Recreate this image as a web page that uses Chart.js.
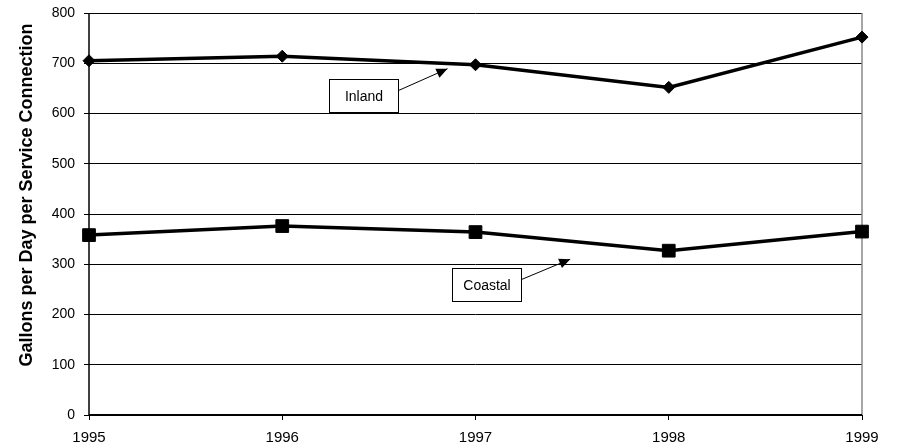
<!DOCTYPE html>
<html>
<head>
<meta charset="utf-8">
<script src="https://cdn.jsdelivr.net/npm/chart.js@4/dist/chart.umd.min.js"></script>
<style>
html,body{margin:0;padding:0;background:#fff;}
#wrap{width:897px;height:448px;position:relative;}
</style>
</head>
<body>
<div id="wrap"><canvas id="c" width="897" height="448"></canvas></div>
<script>
const years = ['1995', '1996', '1997', '1998', '1999'];
const inland = [705, 714, 697, 652, 752];
const coastal = [358, 376, 364, 327, 365];
const yTicks = [0, 100, 200, 300, 400, 500, 600, 700, 800];
const yTitle = 'Gallons per Day per Service Connection';
// callouts: label, box centre (category index, value), arrow tip (category index, value)
const callouts = [
  {text: 'Inland', box: [1.423, 635], tip: [1.855, 689]},
  {text: 'Coastal', box: [2.056, 260], tip: [2.49, 310]}
];

const FONT = "'Liberation Sans', Arial, sans-serif";

const calloutPlugin = {
  id: 'callouts',
  afterDatasetsDraw(chart) {
    const ctx = chart.ctx;
    const xs = chart.scales.x, ys = chart.scales.y;
    ctx.save();
    ctx.font = '14px ' + FONT;
    callouts.forEach(c => {
      const cx = xs.getPixelForValue(c.box[0]);
      const cy = ys.getPixelForValue(c.box[1]);
      const w = 69, h = 33;
      const bx = Math.round(cx - w / 2) + 0.5, by = Math.round(cy - h / 2) + 0.5;
      const tx = xs.getPixelForValue(c.tip[0]);
      const ty = ys.getPixelForValue(c.tip[1]);
      const sx = bx + w, sy = by + 11;
      ctx.strokeStyle = '#000';
      ctx.lineWidth = 1;
      ctx.beginPath();
      ctx.moveTo(sx, sy);
      ctx.lineTo(tx, ty);
      ctx.stroke();
      const ang = Math.atan2(ty - sy, tx - sx);
      const L = 11, W = 5;
      ctx.fillStyle = '#000';
      ctx.beginPath();
      ctx.moveTo(tx, ty);
      ctx.lineTo(tx - L * Math.cos(ang) + W * Math.sin(ang), ty - L * Math.sin(ang) - W * Math.cos(ang));
      ctx.lineTo(tx - L * Math.cos(ang) - W * Math.sin(ang), ty - L * Math.sin(ang) + W * Math.cos(ang));
      ctx.closePath();
      ctx.fill();
      ctx.fillStyle = '#fff';
      ctx.fillRect(bx, by, w, h);
      ctx.strokeRect(bx, by, w, h);
      ctx.fillStyle = '#000';
      ctx.textAlign = 'center';
      ctx.textBaseline = 'middle';
      ctx.fillText(c.text, bx + w / 2, by + h / 2 + 1);
    });
    ctx.restore();
  }
};

const framePlugin = {
  id: 'frame',
  beforeDatasetsDraw(chart) {
    const a = chart.chartArea, ctx = chart.ctx;
    ctx.save();
    ctx.strokeStyle = '#888';
    ctx.lineWidth = 1.5;
    ctx.beginPath();
    ctx.moveTo(a.right, a.top);
    ctx.lineTo(a.right, a.bottom);
    ctx.stroke();
    ctx.strokeStyle = '#000';
    ctx.lineWidth = 1.5;
    ctx.beginPath();
    ctx.moveTo(a.left, a.top);
    ctx.lineTo(a.left, a.bottom);
    ctx.stroke();
    ctx.lineWidth = 2;
    ctx.beginPath();
    ctx.moveTo(a.left, a.bottom);
    ctx.lineTo(a.right, a.bottom);
    ctx.stroke();
    ctx.restore();
  },
  afterDraw(chart) {
    const ctx = chart.ctx;
    ctx.save();
    ctx.translate(27, 195);
    ctx.rotate(-Math.PI / 2);
    ctx.font = 'bold 18px ' + FONT;
    ctx.fillStyle = '#000';
    ctx.textAlign = 'center';
    ctx.textBaseline = 'middle';
    ctx.fillText(yTitle, 0, 0);
    ctx.restore();
  }
};

new Chart(document.getElementById('c'), {
  type: 'line',
  data: {
    labels: years,
    datasets: [
      {
        label: 'Inland', data: inland,
        borderColor: '#000', backgroundColor: '#000', borderWidth: 3.5,
        pointStyle: 'rectRot', pointRadius: 6, pointBorderWidth: 1,
        tension: 0, fill: false
      },
      {
        label: 'Coastal', data: coastal,
        borderColor: '#000', backgroundColor: '#000', borderWidth: 3.5,
        pointStyle: 'rect', pointRadius: 9, pointBorderWidth: 1,
        tension: 0, fill: false
      }
    ]
  },
  options: {
    responsive: false,
    animation: false,
    events: [],
    layout: {padding: {top: 13, right: 35, left: 0, bottom: 0}},
    plugins: {legend: {display: false}, tooltip: {enabled: false}},
    scales: {
      x: {
        offset: false,
        grid: {display: true, drawOnChartArea: false, drawTicks: true, tickLength: 5, color: '#000', lineWidth: 1},
        border: {display: false},
        ticks: {color: '#000', font: {family: FONT, size: 15}, padding: 9, maxRotation: 0, autoSkip: false},
        afterFit(s) { s.height = 33; }
      },
      y: {
        min: 0, max: 800,
        afterBuildTicks(s) { s.ticks = yTicks.map(v => ({value: v})); },
        grid: {color: '#000', lineWidth: 1, tickLength: 5, drawTicks: true},
        border: {display: false},
        ticks: {color: '#000', font: {family: FONT, size: 14}, padding: 9},
        afterFit(s) { s.width = 89; s.paddingTop = 0; s.paddingBottom = 0; }
      }
    }
  },
  plugins: [framePlugin, calloutPlugin]
});
</script>
</body>
</html>
